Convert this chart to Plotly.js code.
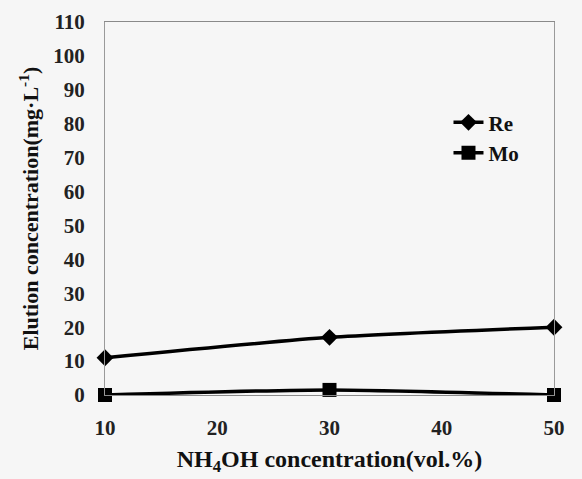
<!DOCTYPE html>
<html>
<head>
<meta charset="utf-8">
<script src="https://cdn.plot.ly/plotly-3.0.1.min.js"></script>
<style>
  html, body { margin: 0; padding: 0; background: #f6f6f6; }
  #chart { width: 582px; height: 479px; }
</style>
</head>
<body>
<div id="chart"></div>
<script>
// NH4OH concentration (vol.%)
const nh4ohConc = [10, 30, 50];
// Elution concentration (mg·L-1)
const reValues = [11, 17, 20];
const moValues = [0, 1.5, 0];
const xTicks = [10, 20, 30, 40, 50];
const yTicks = [0, 10, 20, 30, 40, 50, 60, 70, 80, 90, 100, 110];

const serif = '"Liberation Serif", "Times New Roman", serif';
const bold = s => '<b>' + s + '</b>';

const traces = [
  {
    x: nh4ohConc, y: reValues, name: bold('Re'), type: 'scatter', mode: 'lines+markers',
    line: { color: '#000', width: 3.5, shape: 'spline', smoothing: 0.6 },
    marker: { symbol: 'diamond', size: 13, color: '#000' },
    cliponaxis: false
  },
  {
    x: nh4ohConc, y: moValues, name: bold('Mo'), type: 'scatter', mode: 'lines+markers',
    line: { color: '#000', width: 3.5, shape: 'spline', smoothing: 0.6 },
    marker: { symbol: 'square', size: 14, color: '#000' },
    cliponaxis: false
  }
];

const layout = {
  width: 582, height: 479,
  margin: { l: 105, r: 28, t: 22, b: 84 },
  paper_bgcolor: '#f6f6f6',
  plot_bgcolor: '#f6f6f6',
  font: { family: serif, color: '#111' },
  showlegend: true,
  legend: {
    x: 0.765, y: 0.785, xanchor: 'left', yanchor: 'top',
    bgcolor: 'rgba(0,0,0,0)',
    font: { family: serif, size: 21, color: '#111' },
    tracegroupgap: 2, itemwidth: 30
  },
  xaxis: {
    range: [10, 50],
    tickvals: xTicks,
    ticktext: xTicks.map(v => bold(v)),
    showgrid: false, zeroline: false,
    showline: true, mirror: true, linecolor: '#8a8a8a', linewidth: 1,
    ticks: 'outside', ticklen: 14, tickcolor: 'rgba(0,0,0,0)',
    tickfont: { family: serif, size: 21, color: '#222' },
    title: {
      text: bold('NH<sub>4</sub>OH concentration(vol.%)'),
      font: { family: serif, size: 24, color: '#111' },
      standoff: 10
    }
  },
  yaxis: {
    range: [0, 110],
    tickvals: yTicks,
    ticktext: yTicks.map(v => bold(v)),
    showgrid: false, zeroline: false,
    showline: true, mirror: true, linecolor: '#9a9a9a', linewidth: 1,
    ticks: 'outside', ticklen: 15, tickcolor: 'rgba(0,0,0,0)',
    tickfont: { family: serif, size: 21, color: '#222' },
    title: {
      text: bold('Elution concentration(mg·L<sup>-1</sup>)'),
      font: { family: serif, size: 22, color: '#111' },
      standoff: 8
    }
  }
};

Plotly.newPlot('chart', traces, layout, { displayModeBar: false, staticPlot: true });
</script>
</body>
</html>
